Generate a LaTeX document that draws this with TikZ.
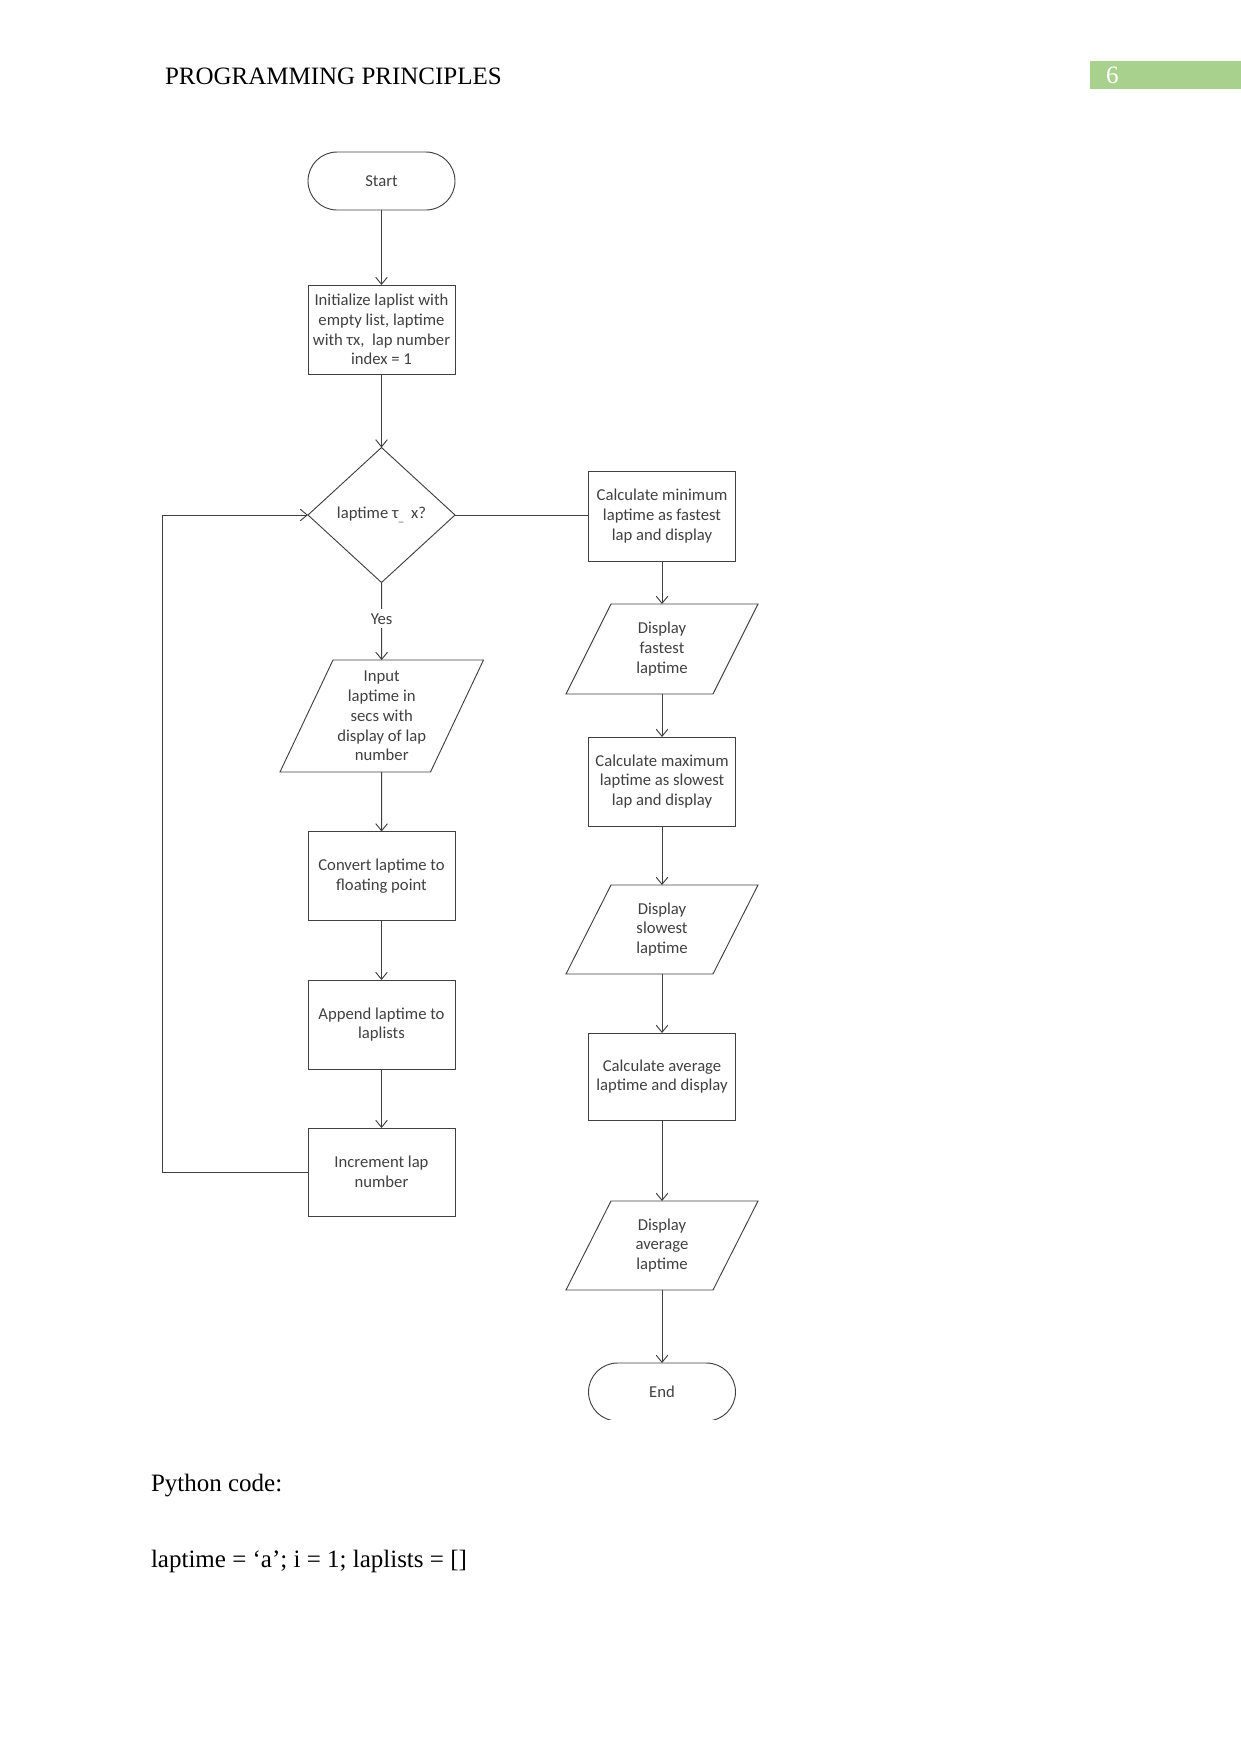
\documentclass[tikz,border=0pt]{standalone}
\usepackage{fontspec}
\setmainfont{Liberation Serif}
\newfontfamily\flowfont{Carlito}
\usetikzlibrary{shapes.geometric,arrows.meta,calc}
\definecolor{lineclr}{HTML}{404040}
\definecolor{txtclr}{HTML}{404040}
\definecolor{hdrgreen}{HTML}{A9D18E}
\tikzset{
  every node/.style={inner sep=0pt, outer sep=0pt},
  fc/.style={font=\flowfont\fontsize{8}{9.5}\selectfont, text=txtclr, align=center},
  procbox/.style={fc, draw=lineclr, line width=0.45pt, rectangle, minimum width={147*0.48pt}, minimum height={89*0.48pt}},
  decbox/.style={fc, draw=lineclr, line width=0.45pt, diamond, minimum width={147*0.48pt}, minimum height={135*0.48pt}},
  iobox/.style={fc, rectangle, minimum width={147*0.48pt}, minimum height={89*0.48pt}},
  termbox/.style={fc, rectangle, rounded corners={29*0.48pt}, minimum width={147*0.48pt}, minimum height={58*0.48pt}},
  conn/.style={draw=lineclr, line width=0.45pt},
  arr/.style={conn, -{Straight Barb[length=3.4pt,width=5.6pt,line width=0.45pt]}},
  bodytxt/.style={font=\fontsize{12}{14}\selectfont, anchor=base west}
}
\newcommand\paradraw[2]{%
  \draw[conn] ([xshift=#2]#1.north west) -- ([xshift=#2]#1.north east) --
    ([xshift=-#2]#1.south east) -- ([xshift=-#2]#1.south west) -- cycle;}
\begin{document}
\begin{tikzpicture}[x=0.48pt, y=-0.48pt]
\useasboundingbox (0,0) rectangle (1241,1754);
% header
\node[bodytxt] (hdr) at (165,84) {PROGRAMMING PRINCIPLES};
\node[fill=hdrgreen, minimum width={151*0.48pt}, minimum height={28*0.48pt}, anchor=north west] (pg) at (1090,61) {};
\node[bodytxt, text=white] (pgnum) at (1106,83) {6};

% left column
\node[termbox, draw=lineclr, line width=0.45pt] (start) at (381.5,181) {Start};
\node[procbox] (init) at (381.5,329.5) {Initialize laplist with\\empty list, laptime\\with τx,\ \ lap number\\index = 1};
\node[decbox] (dec) at (381.5,515) {laptime τ\raisebox{-1.5pt}{\scalebox{0.6}{\_}}\ \ x?};
\node[iobox, minimum width={150.5*0.48pt}, minimum height={112*0.48pt}] (input) at (381.75,716) {Input\\laptime in\\secs with\\display of lap\\number};
\paradraw{input}{26.5*0.48pt}
\node[procbox] (conv) at (381.5,876) {Convert laptime to\\floating point};
\node[procbox] (app) at (381.5,1024.5) {Append laptime to\\laplists};
\node[procbox, minimum height={88*0.48pt}] (inc) at (381.5,1172) {Increment lap\\number};

% right column
\node[procbox, minimum height={90*0.48pt}] (cmin) at (662,516) {Calculate minimum\\laptime as fastest\\lap and display};
\node[iobox, minimum height={90*0.48pt}] (dfast) at (662,649) {Display\\fastest\\laptime};
\paradraw{dfast}{22.5*0.48pt}
\node[procbox] (cmax) at (662,781.5) {Calculate maximum\\laptime as slowest\\lap and display};
\node[iobox] (dslow) at (662,929.5) {Display\\slowest\\laptime};
\paradraw{dslow}{22.5*0.48pt}
\node[procbox, minimum height={87*0.48pt}] (cavg) at (662,1076.5) {Calculate average\\laptime and display};
\node[iobox] (davg) at (662,1245.5) {Display\\average\\laptime};
\paradraw{davg}{22.5*0.48pt}
\node[termbox] (endn) at (662,1392) {End};
\begin{scope}
  \clip (560,1340) rectangle (760,1419);
  \draw[conn, rounded corners={29*0.48pt}] (endn.north west) rectangle (endn.south east);
\end{scope}

% connectors
\draw[arr] (start) -- (init);
\draw[arr] (init) -- (dec);
\draw[arr] (dec) -- node[pos=0.47, fill=white, fc, inner ysep=2pt] (yes) {Yes} (input);
\draw[arr] (input) -- (conv);
\draw[arr] (conv) -- (app);
\draw[arr] (app) -- (inc);
\coordinate (lp) at (162,0);
\draw[arr] (inc.west) -- (inc.west -| lp) -- (dec.west -| lp) -- (dec.west);
\draw[conn] (dec.east) -- (cmin.west |- dec.east);
\draw[arr] (cmin) -- (dfast);
\draw[arr] (dfast) -- (cmax);
\draw[arr] (cmax) -- (dslow);
\draw[arr] (dslow) -- (cavg);
\draw[arr] (cavg) -- (davg);
\draw[arr] (davg) -- (endn.north);

% body text
\node[bodytxt] (pyhead) at (151,1491) {Python code:};
\node[bodytxt] (pyline) at (151,1567) {laptime = ‘a’; i = 1; laplists = []};
\end{tikzpicture}
\end{document}
